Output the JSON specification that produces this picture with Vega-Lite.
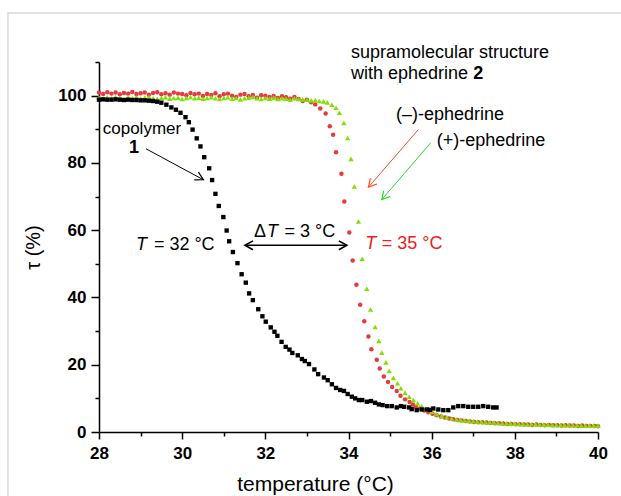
{
  "$schema": "https://vega.github.io/schema/vega-lite/v6.json",
  "width": 499,
  "height": 370,
  "autosize": {"type": "none"},
  "padding": {"left": 99, "top": 62, "right": 23, "bottom": 64},
  "background": "white",
  "config": {
    "view": {"stroke": null},
    "font": "Liberation Sans",
    "axis": {
      "grid": false,
      "labelFont": "Liberation Sans",
      "labelFontWeight": "bold",
      "labelFontSize": 17,
      "labelColor": "black",
      "labelFlush": false,
      "labelOverlap": false,
      "domainColor": "black",
      "domainWidth": 1.5,
      "tickColor": "black",
      "tickWidth": 1.5,
      "titleFont": "Liberation Sans",
      "titleFontWeight": "normal",
      "titleFontSize": 20,
      "titleColor": "black"
    }
  },
  "datasets": {
    "neg": [
      {"T":28.0,"tau":100.9},{"T":28.1,"tau":100.5},{"T":28.2,"tau":101.0},{"T":28.3,"tau":100.6},{"T":28.4,"tau":100.9},{"T":28.5,"tau":100.4},{"T":28.6,"tau":100.8},{"T":28.7,"tau":100.6},{"T":28.8,"tau":101.1},{"T":28.9,"tau":100.5},
      {"T":29.0,"tau":100.7},{"T":29.1,"tau":100.9},{"T":29.2,"tau":100.3},{"T":29.3,"tau":100.8},{"T":29.4,"tau":101.0},{"T":29.5,"tau":100.4},{"T":29.6,"tau":100.7},{"T":29.7,"tau":100.3},{"T":29.8,"tau":100.9},{"T":29.9,"tau":100.6},
      {"T":30.0,"tau":100.5},{"T":30.1,"tau":100.1},{"T":30.2,"tau":100.8},{"T":30.3,"tau":100.4},{"T":30.4,"tau":100.6},{"T":30.5,"tau":99.9},{"T":30.6,"tau":100.5},{"T":30.7,"tau":100.2},{"T":30.8,"tau":100.7},{"T":30.9,"tau":99.8},
      {"T":31.0,"tau":100.4},{"T":31.1,"tau":100.6},{"T":31.2,"tau":100.0},{"T":31.3,"tau":99.6},{"T":31.4,"tau":100.3},{"T":31.5,"tau":100.5},{"T":31.6,"tau":99.8},{"T":31.7,"tau":100.2},{"T":31.8,"tau":99.4},{"T":31.9,"tau":100.1},
      {"T":32.0,"tau":100.0},{"T":32.1,"tau":99.6},{"T":32.2,"tau":99.9},{"T":32.3,"tau":99.3},{"T":32.4,"tau":99.8},{"T":32.5,"tau":99.5},{"T":32.6,"tau":99.1},{"T":32.7,"tau":99.6},{"T":32.8,"tau":99.0},{"T":32.9,"tau":98.4},
      {"T":33.0,"tau":98.8},{"T":33.1,"tau":98.0},{"T":33.2,"tau":97.4},{"T":33.32,"tau":96.2},{"T":33.45,"tau":94.7},{"T":33.55,"tau":90.9},{"T":33.63,"tau":88.4},{"T":33.70,"tau":83.2},{"T":33.83,"tau":76.8},{"T":33.90,"tau":68.5},
      {"T":34.02,"tau":59.3},{"T":34.10,"tau":51.0},{"T":34.19,"tau":43.8},{"T":34.28,"tau":37.8},{"T":34.38,"tau":32.9},{"T":34.48,"tau":28.4},{"T":34.55,"tau":24.6},{"T":34.68,"tau":21.5},{"T":34.75,"tau":18.9},{"T":34.85,"tau":16.5},
      {"T":34.95,"tau":14.9},{"T":35.05,"tau":13.4},{"T":35.16,"tau":12.2},{"T":35.25,"tau":10.8},{"T":35.36,"tau":9.7},{"T":35.47,"tau":8.9},{"T":35.55,"tau":8.2},{"T":35.62,"tau":7.5},{"T":35.72,"tau":7.0},{"T":35.82,"tau":6.4},
      {"T":35.92,"tau":5.9},{"T":36.02,"tau":5.4},{"T":36.12,"tau":5.0},{"T":36.22,"tau":4.6},{"T":36.32,"tau":4.3},{"T":36.42,"tau":4.0},{"T":36.52,"tau":3.8},{"T":36.62,"tau":3.6},{"T":36.72,"tau":3.4},{"T":36.82,"tau":3.3},
      {"T":36.92,"tau":3.1},{"T":37.02,"tau":3.0},{"T":37.12,"tau":2.9},{"T":37.22,"tau":2.9},{"T":37.32,"tau":2.8},{"T":37.42,"tau":2.7},{"T":37.52,"tau":2.6},{"T":37.62,"tau":2.6},{"T":37.72,"tau":2.5},{"T":37.82,"tau":2.4},
      {"T":37.92,"tau":2.4},{"T":38.02,"tau":2.3},{"T":38.12,"tau":2.3},{"T":38.22,"tau":2.2},{"T":38.32,"tau":2.2},{"T":38.42,"tau":2.1},{"T":38.52,"tau":2.2},{"T":38.62,"tau":2.1},{"T":38.72,"tau":2.0},{"T":38.82,"tau":2.1},
      {"T":38.92,"tau":2.0},{"T":39.02,"tau":2.0},{"T":39.12,"tau":1.9},{"T":39.22,"tau":2.0},{"T":39.32,"tau":1.9},{"T":39.42,"tau":1.9},{"T":39.52,"tau":1.8},{"T":39.62,"tau":1.9},{"T":39.72,"tau":1.8},{"T":39.82,"tau":1.8},
      {"T":39.92,"tau":1.8},{"T":40.0,"tau":1.7}
    ],
    "pos": [
      {"T":28.0,"tau":99.4},{"T":28.1,"tau":99.1},{"T":28.2,"tau":99.5},{"T":28.3,"tau":99.2},{"T":28.4,"tau":99.6},{"T":28.5,"tau":99.3},{"T":28.6,"tau":99.0},{"T":28.7,"tau":99.4},{"T":28.8,"tau":99.2},{"T":28.9,"tau":99.5},
      {"T":29.0,"tau":99.1},{"T":29.1,"tau":99.4},{"T":29.2,"tau":99.6},{"T":29.3,"tau":99.2},{"T":29.4,"tau":99.0},{"T":29.5,"tau":99.3},{"T":29.6,"tau":99.5},{"T":29.7,"tau":99.1},{"T":29.8,"tau":99.3},{"T":29.9,"tau":99.4},
      {"T":30.0,"tau":99.0},{"T":30.1,"tau":99.3},{"T":30.2,"tau":99.6},{"T":30.3,"tau":99.2},{"T":30.4,"tau":99.4},{"T":30.5,"tau":99.1},{"T":30.6,"tau":99.3},{"T":30.7,"tau":99.5},{"T":30.8,"tau":99.2},{"T":30.9,"tau":99.0},
      {"T":31.0,"tau":99.3},{"T":31.1,"tau":99.5},{"T":31.2,"tau":99.1},{"T":31.3,"tau":99.3},{"T":31.4,"tau":98.9},{"T":31.5,"tau":99.2},{"T":31.6,"tau":99.4},{"T":31.7,"tau":99.6},{"T":31.8,"tau":99.2},{"T":31.9,"tau":99.0},
      {"T":32.0,"tau":99.3},{"T":32.1,"tau":99.1},{"T":32.2,"tau":99.4},{"T":32.3,"tau":99.0},{"T":32.4,"tau":99.2},{"T":32.5,"tau":99.1},{"T":32.6,"tau":98.8},{"T":32.7,"tau":99.2},{"T":32.8,"tau":99.0},{"T":32.9,"tau":98.9},
      {"T":33.0,"tau":98.8},{"T":33.1,"tau":98.6},{"T":33.2,"tau":98.7},{"T":33.3,"tau":98.4},{"T":33.4,"tau":98.3},{"T":33.49,"tau":98.0},{"T":33.60,"tau":97.3},{"T":33.70,"tau":96.4},{"T":33.78,"tau":94.9},{"T":33.89,"tau":91.9},
      {"T":33.98,"tau":87.4},{"T":34.06,"tau":81.2},{"T":34.14,"tau":73.0},{"T":34.24,"tau":62.6},{"T":34.33,"tau":51.5},{"T":34.44,"tau":42.6},{"T":34.53,"tau":36.4},{"T":34.64,"tau":31.2},{"T":34.73,"tau":27.1},{"T":34.80,"tau":23.6},
      {"T":34.90,"tau":20.7},{"T":34.98,"tau":18.2},{"T":35.08,"tau":16.1},{"T":35.18,"tau":14.5},{"T":35.26,"tau":13.0},{"T":35.36,"tau":11.7},{"T":35.46,"tau":10.5},{"T":35.56,"tau":9.5},{"T":35.66,"tau":8.5},{"T":35.76,"tau":7.7},
      {"T":35.88,"tau":6.7},{"T":36.00,"tau":6.0},{"T":36.12,"tau":5.3},{"T":36.24,"tau":4.8},{"T":36.36,"tau":4.4},{"T":36.48,"tau":4.0},{"T":36.6,"tau":3.7},{"T":36.7,"tau":3.5},{"T":36.8,"tau":3.4},{"T":36.9,"tau":3.3},
      {"T":37.0,"tau":3.2},{"T":37.1,"tau":3.1},{"T":37.2,"tau":3.0},{"T":37.3,"tau":2.9},{"T":37.4,"tau":2.8},{"T":37.5,"tau":2.8},{"T":37.6,"tau":2.7},{"T":37.7,"tau":2.6},{"T":37.8,"tau":2.6},{"T":37.9,"tau":2.5},
      {"T":38.0,"tau":2.5},{"T":38.1,"tau":2.4},{"T":38.2,"tau":2.4},{"T":38.3,"tau":2.3},{"T":38.4,"tau":2.3},{"T":38.5,"tau":2.3},{"T":38.6,"tau":2.2},{"T":38.7,"tau":2.2},{"T":38.8,"tau":2.2},{"T":38.9,"tau":2.1},
      {"T":39.0,"tau":2.1},{"T":39.1,"tau":2.1},{"T":39.2,"tau":2.0},{"T":39.3,"tau":2.0},{"T":39.4,"tau":2.0},{"T":39.5,"tau":2.0},{"T":39.6,"tau":1.9},{"T":39.7,"tau":1.9},{"T":39.8,"tau":1.9},{"T":39.9,"tau":1.9},
      {"T":40.0,"tau":1.9}
    ],
    "cop": [
      {"T":28.0,"tau":98.8},{"T":28.1,"tau":98.9},{"T":28.2,"tau":98.8},{"T":28.3,"tau":98.8},{"T":28.4,"tau":98.9},{"T":28.5,"tau":98.8},{"T":28.6,"tau":98.7},{"T":28.7,"tau":98.8},{"T":28.8,"tau":98.7},{"T":28.9,"tau":98.7},
      {"T":29.0,"tau":98.6},{"T":29.1,"tau":98.6},{"T":29.2,"tau":98.5},{"T":29.3,"tau":98.4},{"T":29.4,"tau":98.2},{"T":29.5,"tau":97.9},{"T":29.62,"tau":97.3},{"T":29.74,"tau":96.5},{"T":29.85,"tau":95.8},{"T":29.96,"tau":94.9},
      {"T":30.08,"tau":93.6},{"T":30.16,"tau":92.1},{"T":30.25,"tau":89.9},{"T":30.35,"tau":87.3},{"T":30.44,"tau":84.9},{"T":30.53,"tau":81.7},{"T":30.65,"tau":78.4},{"T":30.72,"tau":74.9},{"T":30.80,"tau":70.8},{"T":30.88,"tau":67.2},
      {"T":30.99,"tau":63.9},{"T":31.07,"tau":59.9},{"T":31.13,"tau":56.7},{"T":31.22,"tau":53.5},{"T":31.33,"tau":50.2},{"T":31.43,"tau":46.9},{"T":31.53,"tau":44.4},{"T":31.61,"tau":41.2},{"T":31.70,"tau":39.2},{"T":31.83,"tau":36.5},
      {"T":31.93,"tau":34.4},{"T":32.01,"tau":32.8},{"T":32.13,"tau":31.1},{"T":32.22,"tau":29.8},{"T":32.29,"tau":28.6},{"T":32.39,"tau":26.8},{"T":32.49,"tau":25.3},{"T":32.58,"tau":24.5},{"T":32.65,"tau":23.5},{"T":32.78,"tau":22.8},
      {"T":32.88,"tau":21.7},{"T":32.95,"tau":21.1},{"T":33.05,"tau":20.2},{"T":33.18,"tau":18.6},{"T":33.27,"tau":17.2},{"T":33.41,"tau":16.2},{"T":33.50,"tau":15.4},{"T":33.60,"tau":14.2},{"T":33.70,"tau":13.1},{"T":33.80,"tau":12.5},
      {"T":33.89,"tau":12.2},{"T":33.98,"tau":11.3},{"T":34.08,"tau":10.5},{"T":34.16,"tau":10.0},{"T":34.25,"tau":9.5},{"T":34.33,"tau":9.5},{"T":34.44,"tau":9.0},{"T":34.54,"tau":9.2},{"T":34.64,"tau":8.7},{"T":34.73,"tau":8.2},
      {"T":34.82,"tau":8.0},{"T":34.93,"tau":7.7},{"T":35.04,"tau":7.7},{"T":35.16,"tau":7.3},{"T":35.26,"tau":7.7},{"T":35.34,"tau":7.5},{"T":35.46,"tau":7.3},{"T":35.52,"tau":6.8},{"T":35.64,"tau":6.5},{"T":35.76,"tau":6.7},
      {"T":35.88,"tau":6.7},{"T":35.96,"tau":6.6},{"T":36.04,"tau":7.0},{"T":36.16,"tau":6.7},{"T":36.28,"tau":6.5},{"T":36.40,"tau":6.5},{"T":36.52,"tau":7.3},{"T":36.64,"tau":7.7},{"T":36.76,"tau":7.7},{"T":36.88,"tau":7.5},
      {"T":37.00,"tau":7.5},{"T":37.12,"tau":7.5},{"T":37.24,"tau":7.7},{"T":37.36,"tau":7.5},{"T":37.48,"tau":7.3},{"T":37.56,"tau":7.3}
    ],
    "notes": [
      {"x":34.06,"y":112.7,"label":"supramolecular structure"},
      {"x":34.06,"y":106.4,"label":"with ephedrine"},
      {"x":35.14,"y":94.1,"label":"(–)-ephedrine"},
      {"x":36.12,"y":86.4,"label":"(+)-ephedrine"},
      {"x":29.32,"y":55.7,"label":"= 32 °C"},
      {"x":31.73,"y":59.4,"label":"Δ"},
      {"x":32.46,"y":59.4,"label":"= 3 °C"}
    ],
    "boldNotes": [
      {"x":37.0,"y":106.4,"label":"2"},
      {"x":28.72,"y":84.4,"label":"1"}
    ],
    "italicNotes": [
      {"x":28.89,"y":55.7,"label":"T"},
      {"x":32.04,"y":59.4,"label":"T"}
    ],
    "blackArrows": [
      {"x":29.13,"y":84.2,"x2":30.51,"y2":75.0}
    ]
  },
  "layer": [
    {
      "data": {"values": [{"x": 25.81, "y": 124.6, "x2": 41.5, "y2": -30}]},
      "mark": {"type": "rect", "fill": null, "stroke": "#d8d8d8", "strokeWidth": 1.5},
      "encoding": {
        "x": {"field": "x", "type": "quantitative", "scale": {"domain": [28, 40], "nice": false, "zero": false}, "axis": null},
        "y": {"field": "y", "type": "quantitative", "scale": {"domain": [0, 110], "nice": false}, "axis": null},
        "x2": {"field": "x2"},
        "y2": {"field": "y2"}
      }
    },
    {
      "data": {"name": "neg"},
      "mark": {"type": "point", "shape": "circle", "filled": true, "size": 20, "color": "#e63a3d", "opacity": 1},
      "encoding": {
        "x": {"field": "T", "type": "quantitative", "scale": {"domain": [28, 40], "nice": false, "zero": false},
              "axis": {"values": [28, 30, 32, 34, 36, 38, 40], "tickSize": 7, "labelPadding": 6, "title": "temperature (°C)", "titlePadding": 12, "titleFontSize": 21, "titleX": 216, "titleAlign": "center"}},
        "y": {"field": "tau", "type": "quantitative", "scale": {"domain": [0, 110], "nice": false},
              "axis": {"values": [0, 20, 40, 60, 80, 100], "tickSize": 8, "labelPadding": 5, "title": "τ (%)", "titlePadding": 14}}
      }
    },
    {
      "data": {"name": "pos"},
      "mark": {"type": "point", "shape": "triangle-up", "filled": true, "size": 28, "color": "#80e000", "opacity": 1},
      "encoding": {
        "x": {"field": "T", "type": "quantitative", "scale": {"domain": [28, 40], "nice": false, "zero": false},
              "axis": {"orient": "bottom", "values": [29, 31, 33, 35, 37, 39], "tickSize": 4, "labels": false, "domain": false, "title": null}},
        "y": {"field": "tau", "type": "quantitative", "scale": {"domain": [0, 110], "nice": false},
              "axis": {"orient": "left", "values": [10, 30, 50, 70, 90, 110], "tickSize": 4, "labels": false, "domain": false, "title": null}}
      }
    },
    {
      "data": {"name": "cop"},
      "mark": {"type": "point", "shape": "square", "filled": true, "size": 19, "color": "black", "opacity": 1},
      "encoding": {
        "x": {"field": "T", "type": "quantitative", "scale": {"domain": [28, 40], "nice": false, "zero": false}, "axis": null},
        "y": {"field": "tau", "type": "quantitative", "scale": {"domain": [0, 110], "nice": false}, "axis": null}
      }
    },
    {
      "data": {"name": "notes"},
      "mark": {"type": "text", "align": "left", "baseline": "middle", "fontSize": 18, "font": "Liberation Sans", "color": "black"},
      "encoding": {
        "x": {"field": "x", "type": "quantitative", "scale": {"domain": [28, 40], "nice": false, "zero": false}, "axis": null},
        "y": {"field": "y", "type": "quantitative", "scale": {"domain": [0, 110], "nice": false}, "axis": null},
        "text": {"field": "label"}
      }
    },
    {
      "data": {"values": [{"x": 28.09, "y": 90.1, "label": "copolymer"}]},
      "mark": {"type": "text", "align": "left", "baseline": "middle", "fontSize": 17, "font": "Liberation Sans", "color": "black"},
      "encoding": {
        "x": {"field": "x", "type": "quantitative", "scale": {"domain": [28, 40], "nice": false, "zero": false}, "axis": null},
        "y": {"field": "y", "type": "quantitative", "scale": {"domain": [0, 110], "nice": false}, "axis": null},
        "text": {"field": "label"}
      }
    },
    {
      "data": {"name": "boldNotes"},
      "mark": {"type": "text", "align": "left", "baseline": "middle", "fontSize": 18, "fontWeight": "bold", "font": "Liberation Sans", "color": "black"},
      "encoding": {
        "x": {"field": "x", "type": "quantitative", "scale": {"domain": [28, 40], "nice": false, "zero": false}, "axis": null},
        "y": {"field": "y", "type": "quantitative", "scale": {"domain": [0, 110], "nice": false}, "axis": null},
        "text": {"field": "label"}
      }
    },
    {
      "data": {"name": "italicNotes"},
      "mark": {"type": "text", "align": "left", "baseline": "middle", "fontSize": 18, "fontStyle": "italic", "font": "Liberation Sans", "color": "black"},
      "encoding": {
        "x": {"field": "x", "type": "quantitative", "scale": {"domain": [28, 40], "nice": false, "zero": false}, "axis": null},
        "y": {"field": "y", "type": "quantitative", "scale": {"domain": [0, 110], "nice": false}, "axis": null},
        "text": {"field": "label"}
      }
    },
    {
      "data": {"values": [{"x": 34.40, "y": 56.0, "label": "T"}]},
      "mark": {"type": "text", "align": "left", "baseline": "middle", "fontSize": 18, "fontStyle": "italic", "font": "Liberation Sans", "color": "#ee1c1c"},
      "encoding": {
        "x": {"field": "x", "type": "quantitative", "scale": {"domain": [28, 40], "nice": false, "zero": false}, "axis": null},
        "y": {"field": "y", "type": "quantitative", "scale": {"domain": [0, 110], "nice": false}, "axis": null},
        "text": {"field": "label"}
      }
    },
    {
      "data": {"values": [{"x": 34.80, "y": 56.0, "label": "= 35 °C"}]},
      "mark": {"type": "text", "align": "left", "baseline": "middle", "fontSize": 18, "font": "Liberation Sans", "color": "#ee1c1c"},
      "encoding": {
        "x": {"field": "x", "type": "quantitative", "scale": {"domain": [28, 40], "nice": false, "zero": false}, "axis": null},
        "y": {"field": "y", "type": "quantitative", "scale": {"domain": [0, 110], "nice": false}, "axis": null},
        "text": {"field": "label"}
      }
    },
    {
      "data": {"name": "blackArrows"},
      "mark": {"type": "rule", "color": "black", "strokeWidth": 1},
      "encoding": {
        "x": {"field": "x", "type": "quantitative", "scale": {"domain": [28, 40], "nice": false, "zero": false}, "axis": null},
        "y": {"field": "y", "type": "quantitative", "scale": {"domain": [0, 110], "nice": false}, "axis": null},
        "x2": {"field": "x2"},
        "y2": {"field": "y2"}
      }
    },
    {
      "data": {"values": [{"x": 31.51, "y": 55.5, "x2": 33.96, "y2": 55.5}]},
      "mark": {"type": "rule", "color": "black", "strokeWidth": 1.6},
      "encoding": {
        "x": {"field": "x", "type": "quantitative", "scale": {"domain": [28, 40], "nice": false, "zero": false}, "axis": null},
        "y": {"field": "y", "type": "quantitative", "scale": {"domain": [0, 110], "nice": false}, "axis": null},
        "x2": {"field": "x2"},
        "y2": {"field": "y2"}
      }
    },
    {
      "data": {"values": [{"x": 35.68, "y": 89.9, "x2": 34.48, "y2": 72.8}]},
      "mark": {"type": "rule", "color": "#ff4a26", "strokeWidth": 1},
      "encoding": {
        "x": {"field": "x", "type": "quantitative", "scale": {"domain": [28, 40], "nice": false, "zero": false}, "axis": null},
        "y": {"field": "y", "type": "quantitative", "scale": {"domain": [0, 110], "nice": false}, "axis": null},
        "x2": {"field": "x2"},
        "y2": {"field": "y2"}
      }
    },
    {
      "data": {"values": [{"x": 35.98, "y": 86.0, "x2": 34.80, "y2": 69.1}]},
      "mark": {"type": "rule", "color": "#2fd62f", "strokeWidth": 1},
      "encoding": {
        "x": {"field": "x", "type": "quantitative", "scale": {"domain": [28, 40], "nice": false, "zero": false}, "axis": null},
        "y": {"field": "y", "type": "quantitative", "scale": {"domain": [0, 110], "nice": false}, "axis": null},
        "x2": {"field": "x2"},
        "y2": {"field": "y2"}
      }
    },
    {
      "data": {"values": [{"x": 30.51, "y": 75.0}]},
      "mark": {"type": "point", "shape": "M-1,-0.55L0,0L-1,0.55", "filled": false, "size": 256, "angle": 28.4, "stroke": "black", "strokeWidth": 1.2, "opacity": 1},
      "encoding": {
        "x": {"field": "x", "type": "quantitative", "scale": {"domain": [28, 40], "nice": false, "zero": false}, "axis": null},
        "y": {"field": "y", "type": "quantitative", "scale": {"domain": [0, 110], "nice": false}, "axis": null}
      }
    },
    {
      "data": {"values": [{"x": 33.96, "y": 55.5}]},
      "mark": {"type": "point", "shape": "M-1,-0.55L0,0L-1,0.55", "filled": false, "size": 256, "angle": 0, "stroke": "black", "strokeWidth": 1.6, "opacity": 1},
      "encoding": {
        "x": {"field": "x", "type": "quantitative", "scale": {"domain": [28, 40], "nice": false, "zero": false}, "axis": null},
        "y": {"field": "y", "type": "quantitative", "scale": {"domain": [0, 110], "nice": false}, "axis": null}
      }
    },
    {
      "data": {"values": [{"x": 31.51, "y": 55.5}]},
      "mark": {"type": "point", "shape": "M-1,-0.55L0,0L-1,0.55", "filled": false, "size": 256, "angle": 180, "stroke": "black", "strokeWidth": 1.6, "opacity": 1},
      "encoding": {
        "x": {"field": "x", "type": "quantitative", "scale": {"domain": [28, 40], "nice": false, "zero": false}, "axis": null},
        "y": {"field": "y", "type": "quantitative", "scale": {"domain": [0, 110], "nice": false}, "axis": null}
      }
    },
    {
      "data": {"values": [{"x": 34.48, "y": 72.8}]},
      "mark": {"type": "point", "shape": "M-1,-0.55L0,0L-1,0.55", "filled": false, "size": 256, "angle": 131, "stroke": "#ff4a26", "strokeWidth": 1.2, "opacity": 1},
      "encoding": {
        "x": {"field": "x", "type": "quantitative", "scale": {"domain": [28, 40], "nice": false, "zero": false}, "axis": null},
        "y": {"field": "y", "type": "quantitative", "scale": {"domain": [0, 110], "nice": false}, "axis": null}
      }
    },
    {
      "data": {"values": [{"x": 34.80, "y": 69.1}]},
      "mark": {"type": "point", "shape": "M-1,-0.55L0,0L-1,0.55", "filled": false, "size": 256, "angle": 131, "stroke": "#2fd62f", "strokeWidth": 1.2, "opacity": 1},
      "encoding": {
        "x": {"field": "x", "type": "quantitative", "scale": {"domain": [28, 40], "nice": false, "zero": false}, "axis": null},
        "y": {"field": "y", "type": "quantitative", "scale": {"domain": [0, 110], "nice": false}, "axis": null}
      }
    }
  ],
  "resolve": {"axis": {"x": "independent", "y": "independent"}}
}
